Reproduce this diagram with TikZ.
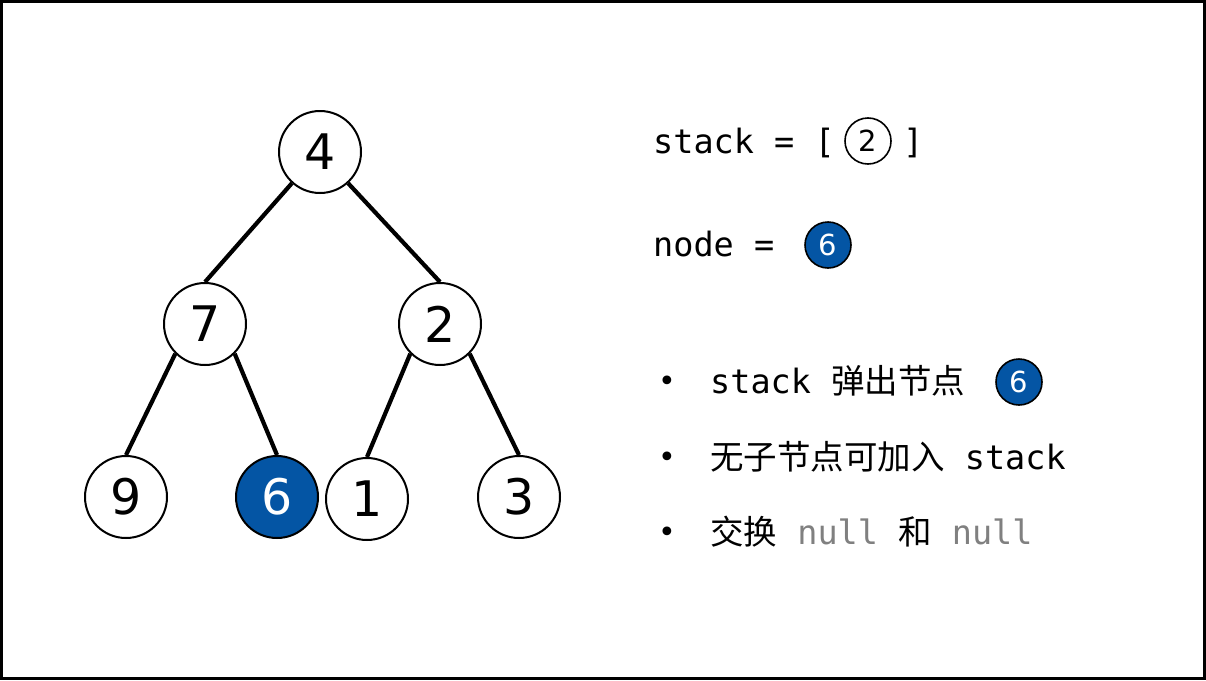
\documentclass[tikz,border=0pt]{standalone}
\usepackage{fontspec}
\usetikzlibrary{backgrounds}
\setmainfont{DejaVu Sans}
\newfontfamily\monof{DejaVu Sans Mono}
\newfontfamily\cjkf{Noto Sans CJK SC}
\definecolor{nodeblue}{RGB}{4,85,164}
\definecolor{nullgray}{RGB}{128,128,128}
\begin{document}
\begin{tikzpicture}[x=1pt,y=-1pt,
  tree/.style={circle,draw=black,line width=2pt,minimum size=82pt,inner sep=0pt,fill=white,font=\fontsize{49}{58}\selectfont},
  hl/.style={fill=nodeblue,text=white},
  small/.style={circle,draw=black,line width=1.6pt,minimum size=46pt,inner sep=0pt,font=\fontsize{29}{34}\selectfont},
  edge/.style={line width=4.2pt},
  txt/.style={anchor=base west,inner sep=0pt,font=\fontsize{33.5}{40}\selectfont\monof},
  bullet/.style={inner sep=0pt,font=\fontsize{30}{36}\selectfont},
]
\useasboundingbox (0,0) rectangle (1206,680);
\draw[line width=3pt] (1.5,1.5) rectangle (1204.5,678.5);
% tree
\node[tree] (n4) at (320,152) {4};
\node[tree] (n7) at (205,324) {7};
\node[tree] (n2) at (440,324) {2};
\node[tree] (n9) at (126,497) {9};
\node[tree,hl] (n6) at (277,497) {6};
\node[tree] (n1) at (367,499) {1};
\node[tree] (n3) at (519,497) {3};
\begin{scope}[on background layer]
\draw[edge] (n4.228) -- (n7.north);
\draw[edge] (n4.312) -- (n2.north);
\draw[edge] (n7.225) -- (n9.north);
\draw[edge] (n7.315) -- (n6.north);
\draw[edge] (n2.225) -- (n1.north);
\draw[edge] (n2.315) -- (n3.north);
\end{scope}
% right side
\node[txt] (stk) at (653,153) {stack = [};
\node[small] (s2) at (868,141) {2};
\node[txt] (br) at (903,153) {]};
\node[txt] (nd) at (653,256) {node =};
\node[small,hl] (cur) at (828,245) {6};
\node[bullet] (b1) at (667,384) {•};
\node[bullet] (b2) at (667,460) {•};
\node[bullet] (b3) at (667,535) {•};
\node[txt] (l1) at (710,393) {stack {\cjkf 弹出节点}};
\node[small,hl] (pop) at (1019,382) {6};
\node[txt] (l2) at (710,469) {{\cjkf 无子节点可加入} stack};
\node[txt] (l3) at (710,544) {{\cjkf 交换} {\color{nullgray}null} {\cjkf 和} {\color{nullgray}null}};
\end{tikzpicture}
\end{document}
